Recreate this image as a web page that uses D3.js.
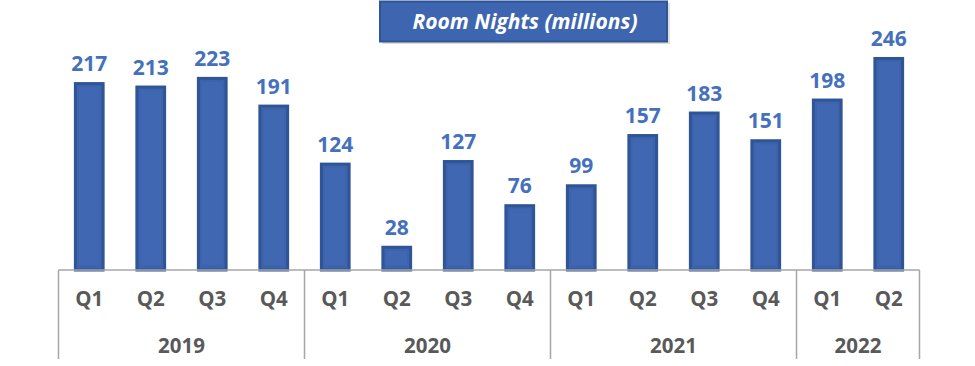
<!DOCTYPE html>
<html><head><meta charset="utf-8">
<script src="https://cdn.jsdelivr.net/npm/d3@7"></script>
<style>
body{margin:0;background:#fff;}
svg{display:block;}
text{font-family:"Open Sans","Noto Sans",sans-serif;}
</style></head>
<body>
<script>
const years = ["2019","2020","2021","2022"];
const quarters = ["Q1","Q2","Q3","Q4","Q1","Q2","Q3","Q4","Q1","Q2","Q3","Q4","Q1","Q2"];
const quarterYears = ["2019","2019","2019","2019","2020","2020","2020","2020","2021","2021","2021","2021","2022","2022"];
const values = [217,213,223,191,124,28,127,76,99,157,183,151,198,246];
const title = "Room Nights (millions)";

const W=975,H=366;
const svg=d3.select("body").append("svg").attr("width",W).attr("height",H);
const idx = values.map((d,i)=>i);
const x=d3.scaleBand().domain(idx).range([58.5,919.5]).paddingInner(0.5).paddingOuter(0.25);
const y=d3.scaleLinear().domain([0,250]).range([270,53.5]);

// title box
const tg=svg.append("g");
tg.append("rect").attr("x",382).attr("y",3).attr("width",288).attr("height",41).attr("fill","#c9c9c9").attr("opacity",0.6);
tg.append("rect").attr("x",380).attr("y",1.5).attr("width",287).attr("height",40).attr("fill","#3E66B0").attr("stroke","#2F5597").attr("stroke-width",2);
tg.append("text").attr("x",525).attr("y",29).attr("text-anchor","middle").attr("fill","#fff")
  .attr("font-size",21).attr("font-weight","bold").attr("font-style","italic").text(title);

// bars
const bars=svg.append("g");
bars.selectAll("rect.o").data(values).join("rect").attr("class","o")
  .attr("x",(d,i)=>x(i)+1.5).attr("width",x.bandwidth()-3)
  .attr("y",d=>y(d)+1.5).attr("height",d=>y(0)-y(d)-1.5)
  .attr("fill","#3C63AC").attr("stroke","#2F5597").attr("stroke-width",3);
bars.selectAll("rect.i").data(values).join("rect").attr("class","i")
  .attr("x",(d,i)=>x(i)+5).attr("width",x.bandwidth()-10)
  .attr("y",d=>y(d)+5).attr("height",d=>Math.max(0,y(0)-y(d)-10))
  .attr("fill","#3F67B2");

svg.append("g").selectAll("text").data(values).join("text")
  .attr("x",(d,i)=>x(i)+x.bandwidth()/2).attr("y",d=>y(d)-11)
  .attr("text-anchor","middle").attr("fill","#4470BD").attr("font-size",21).attr("font-weight","bold")
  .text(d=>d);

// axis
const ax=svg.append("g").attr("stroke","#A6A6A6").attr("stroke-width",1.5);
ax.append("line").attr("x1",58.5).attr("x2",919.5).attr("y1",270).attr("y2",270);
const step=x.step();
const bounds=[0];
years.forEach(yr=>{bounds.push(bounds[bounds.length-1]+quarterYears.filter(q=>q===yr).length);});
bounds.forEach(b=>{
  const xx=58.5+b*step;
  ax.append("line").attr("x1",xx).attr("x2",xx).attr("y1",270).attr("y2",359);
});
svg.append("g").selectAll("text").data(quarters).join("text")
  .attr("x",(d,i)=>x(i)+x.bandwidth()/2).attr("y",306)
  .attr("text-anchor","middle").attr("fill","#595959").attr("font-size",20.5).attr("font-weight","bold").text(d=>d);
svg.append("g").selectAll("text").data(years).join("text")
  .attr("x",(d,i)=>58.5+(bounds[i]+bounds[i+1])/2*step).attr("y",353)
  .attr("text-anchor","middle").attr("fill","#595959").attr("font-size",20.5).attr("font-weight","bold").text(d=>d);
</script>
</body></html>
